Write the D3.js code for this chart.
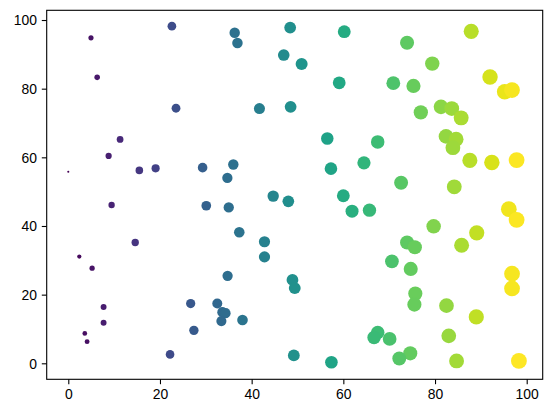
<!DOCTYPE html>
<html>
<head>
<meta charset="utf-8">
<script src="https://cdn.jsdelivr.net/npm/d3@7"></script>
<style>
  body { margin: 0; background: #fff; }
  svg { display: block; font-family: "DejaVu Sans", sans-serif; }
  .axis text { font-size: 13.9px; fill: #000; }
  .axis line { stroke: #000; stroke-width: 1.1; }
  .axis path { display: none; }
</style>
</head>
<body>
<svg width="552" height="413"></svg>
<script>
// scatter: x, y (colour and size both follow x)
var xValues = [
    22.6, 4.95, 6.3, 23.5, 11.3, 8.8, 0.0, 15.5, 19.05, 29.3,
    36.3, 36.9, 48.4, 60.2, 47.0, 50.9, 59.1, 41.7, 48.5, 56.5,
    67.5, 64.5, 57.3, 36.0, 34.7, 44.7, 48.0, 60.0,
    87.9, 73.9, 79.4, 92.0, 95.2, 96.8, 70.9, 75.3, 76.9, 81.3,
    83.65, 85.7, 82.4, 84.6, 83.9, 87.6, 92.4, 97.8, 72.6, 84.2,
    9.45, 30.1, 14.6, 2.4, 5.2, 7.7, 7.7, 3.6, 4.1, 26.7, 27.4, 22.2,
    35.0, 61.9, 65.7, 37.3, 42.8, 42.8, 34.75, 48.9, 49.4, 32.5,
    33.6, 34.3, 33.4, 38.0, 49.2, 57.4,
    96.1, 97.8, 79.7, 89.1, 85.8, 73.9, 75.6, 70.6, 74.7, 96.8,
    96.8, 75.7, 75.5, 82.5, 89.0, 67.5, 66.7, 70.1, 83.0, 74.6,
    72.2, 84.7, 98.3
];
var yValues = [
    98.2, 94.8, 83.3, 74.3, 65.2, 60.4, 55.8, 56.2, 56.8, 57.0,
    96.3, 93.3, 97.8, 96.6, 89.8, 87.2, 81.7, 74.2, 74.7, 65.5,
    64.5, 58.4, 56.7, 57.9, 54.0, 48.7, 47.2, 48.8,
    96.7, 93.4, 87.3, 83.4, 79.1, 79.6, 81.6, 80.8, 73.1, 74.7,
    74.2, 71.5, 66.1, 65.3, 62.8, 59.1, 58.5, 59.2, 52.6, 51.4,
    46.1, 45.9, 35.2, 31.1, 27.7, 16.4, 11.8, 8.7, 6.3, 17.4, 9.6, 2.6,
    45.4, 44.3, 44.6, 38.2, 35.4, 31.0, 25.5, 24.3, 21.9, 17.4,
    14.9, 14.6, 12.3, 12.6, 2.3, 0.3,
    44.9, 41.8, 39.9, 38.0, 34.4, 35.2, 33.8, 29.7, 27.5, 26.1,
    21.8, 20.3, 17.1, 16.8, 13.5, 9.0, 7.5, 7.1, 8.0, 2.9,
    1.4, 0.7, 0.7
];
var xTicks = [0, 20, 40, 60, 80, 100];
var yTicks = [0, 20, 40, 60, 80, 100];

var svg = d3.select("svg");

var margin = { top: 10.3, right: 9.3, bottom: 33.7, left: 46.7 },
    width = +svg.attr("width") - margin.left - margin.right,
    height = +svg.attr("height") - margin.top - margin.bottom;

var g = svg.append("g")
    .attr("transform", `translate(${margin.left}, ${margin.top})`);

var x = d3.scaleLinear().domain([-4.71, 103.49]).range([0, width]);
var y = d3.scaleLinear().domain([-4.66, 102.83]).range([height, 0]);
var color = d3.scaleSequential(d3.interpolateViridis).domain(d3.extent(xValues));
// marker area grows with x (matplotlib s = x, plus edge width)
var r = d3.scaleSqrt().domain([0, 100]).range([1.04, 7.99]);

var points = xValues.map((v, i) => ({ x: v, y: yValues[i] }));

g.append("g")
    .selectAll("circle")
    .data(points)
    .enter().append("circle")
        .attr("cx", d => x(d.x))
        .attr("cy", d => y(d.y))
        .attr("r", d => r(d.x))
        .attr("fill", d => color(d.x));

g.append("g")
    .attr("class", "axis x")
    .attr("transform", `translate(0, ${height})`)
    .call(d3.axisBottom(x).tickValues(xTicks).tickSize(4.9).tickPadding(4.9))
    .selectAll("text").attr("dy", "0.71em");

g.append("g")
    .attr("class", "axis y")
    .call(d3.axisLeft(y).tickValues(yTicks).tickSize(4.9).tickPadding(4.9))
    .selectAll("text").attr("dy", "0.35em");

g.append("rect")
    .attr("width", width)
    .attr("height", height)
    .attr("fill", "none")
    .attr("stroke", "#000")
    .attr("stroke-width", 1.1);
</script>
</body>
</html>
